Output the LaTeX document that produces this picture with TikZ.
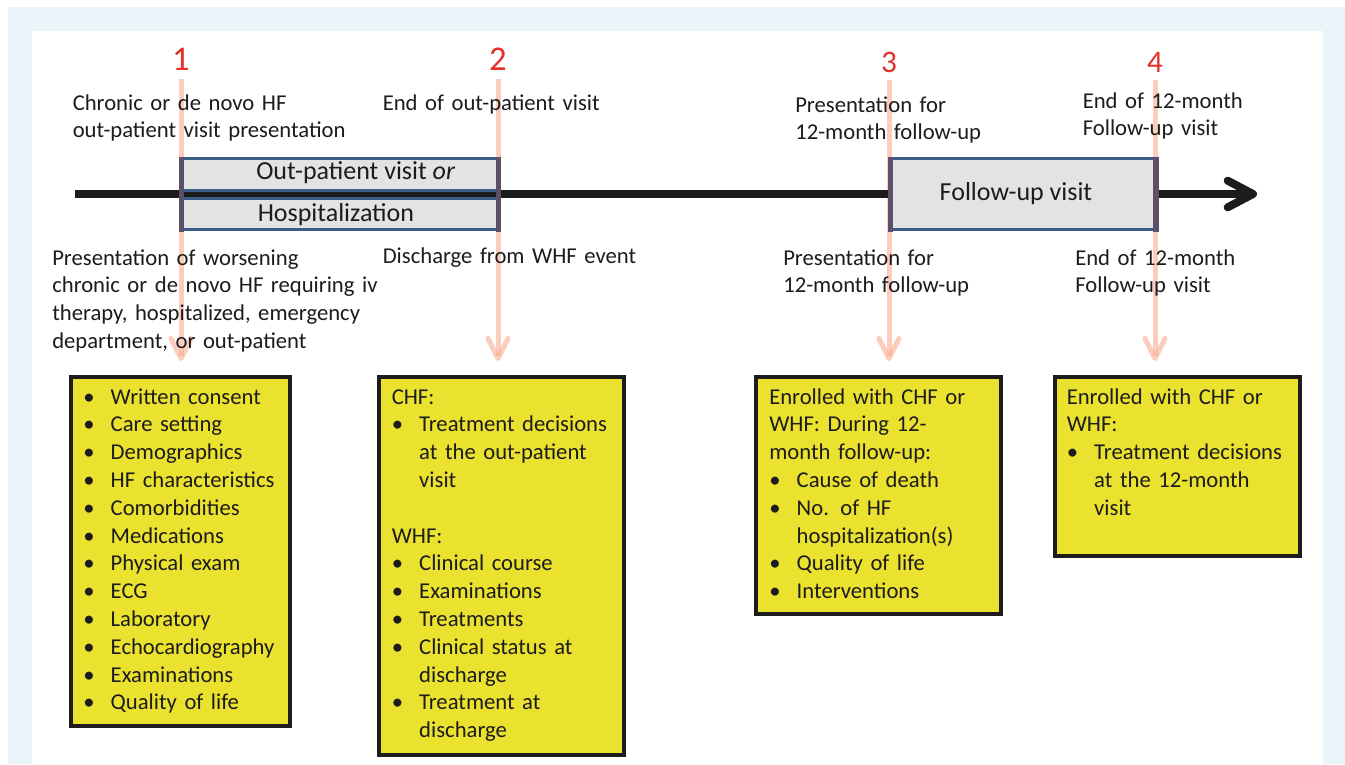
\documentclass[tikz,border=0pt]{standalone}
\usepackage{fontspec}
\setmainfont{Carlito}
\usetikzlibrary{arrows.meta}
\definecolor{bgblue}{RGB}{233,245,248}
\definecolor{ylw}{RGB}{235,226,48}
\definecolor{boxgrey}{RGB}{227,227,227}
\definecolor{boxblue}{RGB}{60,93,140}
\definecolor{endbar}{RGB}{92,80,104}
\definecolor{salmon}{RGB}{250,165,135}
\definecolor{numred}{RGB}{227,48,42}
\definecolor{txt}{RGB}{28,28,28}
\newcommand\bul{\makebox[20.6pt][l]{•}}
\newcommand\ind{\hspace*{20.6pt}}
\begin{document}
\begin{tikzpicture}[x=0.75pt,y=-0.75pt,
  lbl/.style={font=\fontsize{17}{20.85}\selectfont, text=txt, inner sep=0pt,
    anchor=base west, text width=250pt, align=left},
  tlbl/.style={font=\fontsize{19.5}{22}\selectfont, text=txt, inner sep=0pt},
  num/.style={font=\fontsize{26}{26}\selectfont, text=numred, inner sep=0pt, anchor=base},
  numsm/.style={num, font=\fontsize{23.5}{24}\selectfont},
  ybox/.style={draw=txt, fill=ylw, line width=2.8pt, inner sep=0pt},
  tbox/.style={draw=boxblue, fill=boxgrey, line width=2.25pt, inner sep=0pt},
  ebar/.style={draw=endbar, line width=4.2pt},
  varrow/.style={draw=salmon, draw opacity=0.55, line width=3.75pt,
    -{Straight Barb[length=15pt, width=15pt, round]}},
  tline/.style={draw=txt, line width=6pt,
    -{Straight Barb[length=19pt, width=20pt, round]}}
]
\useasboundingbox (0,0) rectangle (1345,764);
\fill[white] (0,0) rectangle (1345,764);
\fill[bgblue] (8,7) rectangle (1345,764);
\fill[white] (32,31) rectangle (1322.5,764);

% vertical arrows
\coordinate (t1) at (181,79);  \coordinate (a1) at (181,361);
\coordinate (t2) at (498,79);  \coordinate (a2) at (498,361);
\coordinate (t3) at (889,80);  \coordinate (a3) at (889,361);
\coordinate (t4) at (1155,80); \coordinate (a4) at (1155,361);
\draw[varrow] (t1) -- (a1);
\draw[varrow] (t2) -- (a2);
\draw[varrow] (t3) -- (a3);
\draw[varrow] (t4) -- (a4);

% timeline
\coordinate (ts) at (75,194);
\coordinate (te) at (1257,194);
\draw[tline] (ts) -- (te);

% timeline boxes
\node[tbox, minimum width=237.75pt, minimum height=24pt] (opv) at (339.7,174.7) {};
\node[tbox, minimum width=237.75pt, minimum height=23.6pt] (hosp) at (339.7,213.8) {};
\node[tbox, minimum width=199.5pt, minimum height=52.7pt] (fuv) at (1023,193.9) {};
\draw[ebar] (181.3,156.5) -- (181.3,231.8);
\draw[ebar] (498.3,156.5) -- (498.3,231.8);
\draw[ebar] (890.3,156.5) -- (890.3,231.8);
\draw[ebar] (1156,156.5) -- (1156,231.8);
\node[tlbl, anchor=base west] (opvt) at (256,179.3) {Out-patient visit \textit{or}};
\node[tlbl, anchor=base west] (hospt) at (257.5,221.7) {Hospitalization};
\node[tlbl, anchor=base] (fuvt) at (1016,200) {Follow-up visit};

% numbers
\node[num] (n1) at (181,70.5) {1};
\node[num] (n2) at (498,70.5) {2};
\node[numsm] (n3) at (889,72) {3};
\node[numsm] (n4) at (1155,72) {4};

% labels above
\node[lbl] (l1t) at (72.5,110) {Chronic or de novo HF\\out-patient visit presentation};
\node[lbl] (l2t) at (382.5,110) {End of out-patient visit};
\node[lbl] (l3t) at (795,112) {Presentation for\\12-month follow-up};
\node[lbl] (l4t) at (1082.5,108) {End of 12-month\\Follow-up visit};

% labels below
\node[lbl] (l1b) at (52,265) {Presentation of worsening\\chronic or de novo HF requiring iv\\therapy, hospitalized, emergency\\department, or out-patient};
\node[lbl] (l2b) at (382.5,263) {Discharge from WHF event};
\node[lbl] (l3b) at (783,265) {Presentation for\\12-month follow-up};
\node[lbl] (l4b) at (1075,265) {End of 12-month\\Follow-up visit};

% yellow boxes
\node[ybox, minimum width=164.25pt, minimum height=261.75pt] (b1) at (180.5,551.5) {};
\node[ybox, minimum width=183.75pt, minimum height=283.5pt] (b2) at (501.5,566) {};
\node[ybox, minimum width=183.75pt, minimum height=177.75pt] (b3) at (878.5,495.5) {};
\node[ybox, minimum width=183.75pt, minimum height=134.25pt] (b4) at (1177.5,466.5) {};

\node[lbl] (b1t) at (83,404) {\bul Written consent\\\bul Care setting\\\bul Demographics\\\bul HF characteristics\\\bul Comorbidities\\\bul Medications\\\bul Physical exam\\\bul ECG\\\bul Laboratory\\\bul Echocardiography\\\bul Examinations\\\bul Quality of life};
\node[lbl] (b2t) at (391.5,404) {CHF:\\\bul Treatment decisions\\\ind at the out-patient\\\ind visit\\\mbox{}\\WHF:\\\bul Clinical course\\\bul Examinations\\\bul Treatments\\\bul Clinical status at\\\ind discharge\\\bul Treatment at\\\ind discharge};
\node[lbl] (b3t) at (769,404) {Enrolled with CHF or\\WHF: During 12-\\month follow-up:\\\bul Cause of death\\\bul No. of HF\\\ind hospitalization(s)\\\bul Quality of life\\\bul Interventions};
\node[lbl] (b4t) at (1066.5,404) {Enrolled with CHF or\\WHF:\\\bul Treatment decisions\\\ind at the 12-month\\\ind visit};
\end{tikzpicture}
\end{document}
